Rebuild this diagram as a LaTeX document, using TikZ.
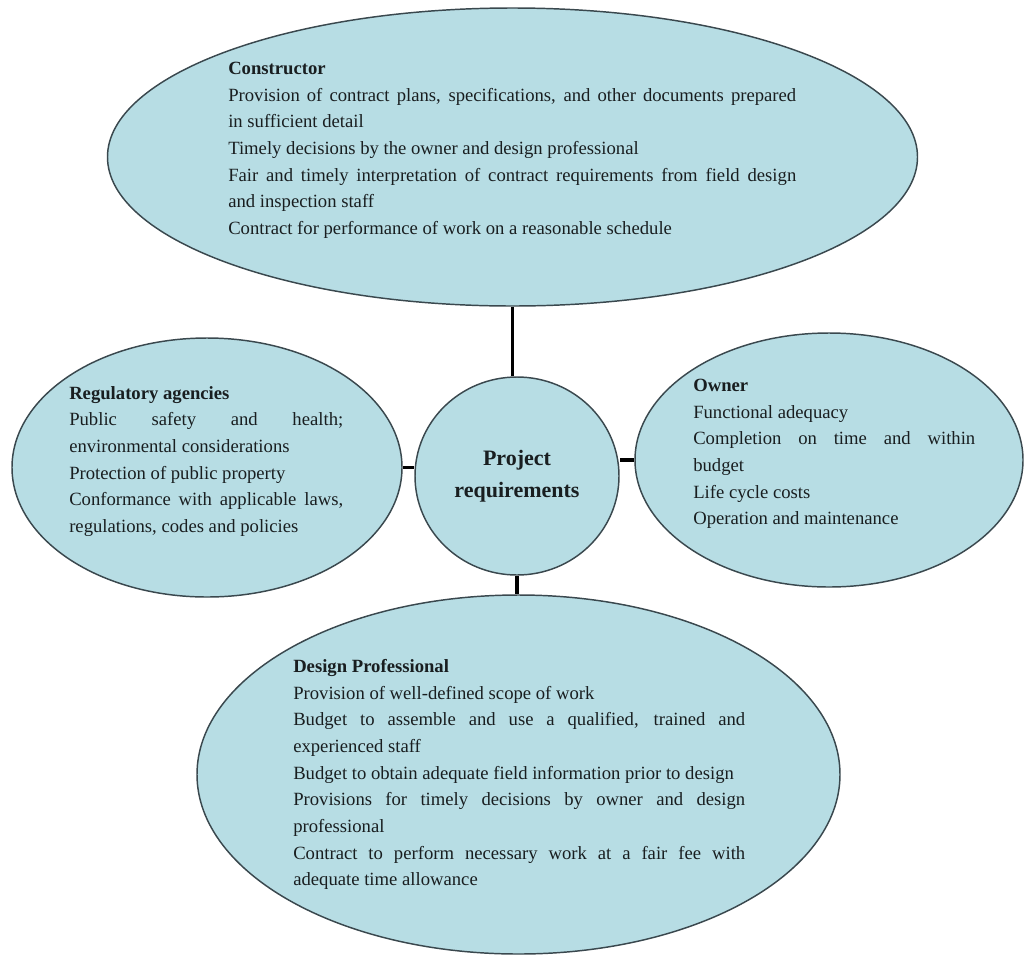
\documentclass[tikz,border=0pt]{standalone}
\usepackage{fontspec}
\setmainfont{Liberation Serif}
\usetikzlibrary{shapes.geometric}

\begin{document}
\begin{tikzpicture}[x=0.75pt,y=0.75pt,yscale=-1,xscale=1,
  bubble/.style={ellipse, draw={rgb, 255:red, 58; green, 72; blue, 78 }, line width=1.1pt, fill={rgb, 255:red, 183; green, 221; blue, 228 }, inner sep=0pt},
  listtext/.style={anchor=north west, inner sep=0pt, align=justify, text={rgb, 255:red, 25; green, 30; blue, 32 }, font=\fontsize{14}{20}\selectfont},
  link/.style={line width=2.3pt, color=black}]
\useasboundingbox (0,0) rectangle (1024,957);

%Shape: Ellipse [id:cons]
\node (cons) [bubble, minimum width=607.5pt, minimum height=223.5pt] at (512.5,157) {};
%Shape: Ellipse [id:reg]
\node (reg) [bubble, minimum width=292.5pt, minimum height=194.25pt] at (207,467.5) {};
%Shape: Ellipse [id:own]
\node (own) [bubble, minimum width=291pt, minimum height=190.5pt] at (829,460) {};
%Shape: Ellipse [id:dsg]
\node (dsg) [bubble, minimum width=482.25pt, minimum height=269.25pt] at (518.5,774.5) {};
%Shape: Circle [id:ctr]
\node (ctr) [bubble, minimum width=153pt, minimum height=148.5pt] at (517,476) {};

%Straight Lines [id:link1]
\draw [link] (cons.south) -- (cons.south |- ctr.north);
%Straight Lines [id:link2]
\draw [link] (reg.east) -- (reg.east -| ctr.west);
%Straight Lines [id:link3]
\draw [link] (own.west) -- (own.west -| ctr.east);
%Straight Lines [id:link4]
\draw [link] (ctr.south) -- (ctr.south |- dsg.north);

% Text Node
\node (constxt) [listtext, text width=426pt] at (228,62) {\textbf{Constructor}\\
Provision of contract plans, specifications, and other documents prepared\linebreak in sufficient detail\\
Timely decisions by the owner and design professional\\
Fair and timely interpretation of contract requirements from field design\linebreak and inspection staff\\
Contract for performance of work on a reasonable schedule};
% Text Node
\node (regtxt) [listtext, text width=205.5pt] at (69,386) {\textbf{Regulatory agencies}\\
Public safety and health;\linebreak environmental considerations\\
Protection of public property\\
Conformance with applicable laws,\linebreak regulations, codes and policies};
% Text Node
\node (owntxt) [listtext, text width=211.5pt] at (693,379) {\textbf{Owner}\\
Functional adequacy\\
Completion on time and within\linebreak budget\\
Life cycle costs\\
Operation and maintenance};
% Text Node
\node (dsgtxt) [listtext, text width=339pt] at (293,659) {\textbf{Design Professional}\\
Provision of well-defined scope of work\\
Budget to assemble and use a qualified, trained and\linebreak experienced staff\\
Budget to obtain adequate field information prior to design\\
Provisions for timely decisions by owner and design\linebreak professional\\
Contract to perform necessary work at a fair fee with\linebreak adequate time allowance};
% Text Node
\node (ctrtxt) [inner sep=0pt, align=center, text={rgb, 255:red, 25; green, 30; blue, 32 }, font=\fontsize{16.5}{24}\selectfont\bfseries] at (ctr) {Project\\requirements};

\end{tikzpicture}
\end{document}
